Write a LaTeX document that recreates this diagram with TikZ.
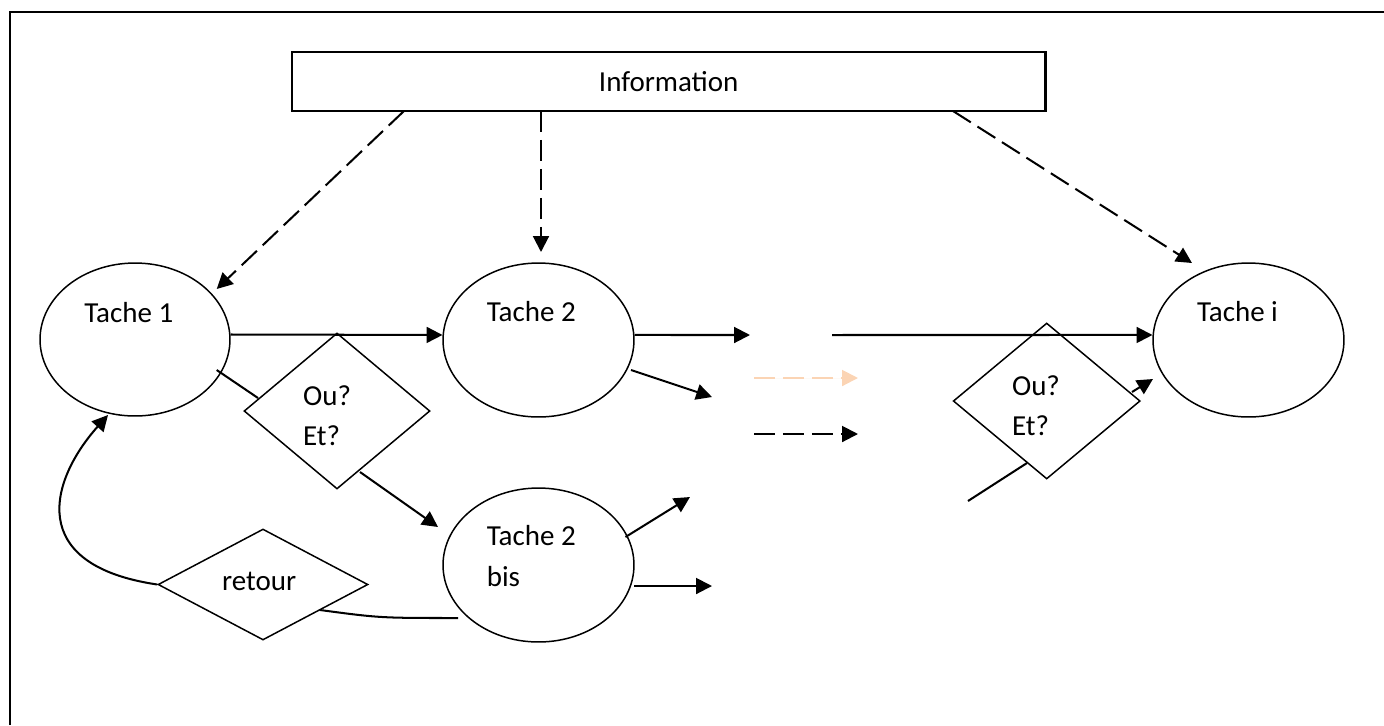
\documentclass[tikz,border=0pt]{standalone}
\usepackage{fontspec}
\setmainfont{Carlito}
\usetikzlibrary{shapes.geometric,arrows.meta}
\definecolor{peach}{RGB}{251,212,180}
\begin{document}
\begin{tikzpicture}[x=0.02cm,y=-0.02cm,
  lbl/.style={font=\fontsize{16.5}{23}\selectfont, inner sep=0, anchor=base west},
  task/.style={ellipse, draw, line width=0.85pt, inner sep=0,
               minimum width=3.82cm, minimum height=3.08cm},
  choice/.style={diamond, draw, line width=0.85pt, inner sep=0},
  flow/.style={line width=1.15pt, -{Triangle[length=9pt,width=9pt]}},
  link/.style={line width=1.15pt},
  dflow/.style={flow, dash pattern=on 12pt off 4.5pt},
]
\useasboundingbox (0,0) rectangle (1384,725);

% frame
\draw[line width=1.4pt] (10,725) -- (10,12) -- (1384,12);

% information box
\node[draw, line width=1.3pt, inner sep=0, minimum width=15.08cm, minimum height=1.18cm,
      font=\fontsize{16.5}{23}\selectfont] (info) at (668.7,81.2) {Information};

% tasks
\node[task, minimum width=3.8cm, minimum height=3.06cm] (t1) at (135,339.5) {};
\node[task] (t2)  at (538.5,340) {};
\node[task] (t2b) at (538.5,565) {};
\node[task] (ti)  at (1248.5,340) {};

% decisions
\node[choice, minimum width=3.72cm, minimum height=3.12cm] (d1) at (337,411) {};
\node[choice, minimum width=3.74cm, minimum height=3.12cm] (d2) at (1046.7,401) {};
\node[choice, minimum width=4.2cm, minimum height=2.22cm] (ret) at (263,584.5) {};

% labels
\node[lbl] (lt1)  at (84,322)     {Tache 1};
\node[lbl] (lt2)  at (486.5,321.7) {Tache 2};
\node[lbl] (lti)  at (1196.7,321.7) {Tache i};
\node[lbl] (lt2b) at (486.5,545)   {Tache 2};
\node[lbl] (lbis) at (486.5,586.7) {bis};
\node[lbl] (ou1)  at (302.8,405)   {Ou?};
\node[lbl] (et1)  at (302.8,445.7) {Et?};
\node[lbl] (ou2)  at (1011.7,395)  {Ou?};
\node[lbl] (et2)  at (1011.7,435)  {Et?};
\node[lbl] (lret) at (221.7,590)   {retour};

% connector ends
\coordinate (i1) at (404,111);
\coordinate (i2) at (541,111);
\coordinate (i3) at (953,111);
\coordinate (t1in) at (216.7,289);
\coordinate (t2in) at (541,252);
\coordinate (tiin) at (1192,263);
\coordinate (t2out) at (750,335);
\coordinate (midin) at (832,335);
\coordinate (t2low) at (631,370);
\coordinate (t2lowend) at (712,397);
\coordinate (t1low) at (216.7,370);
\coordinate (d1in) at (258,398);
\coordinate (d1out) at (360,472);
\coordinate (t2bin) at (438,527);
\coordinate (t2bup) at (625.5,537);
\coordinate (t2bupend) at (690,497);
\coordinate (t2bright) at (634,586);
\coordinate (t2brightend) at (712,586);
\coordinate (t2bleft) at (458,618);
\coordinate (retin) at (320,610);
\coordinate (t1back) at (108,415);
\coordinate (pa) at (754,378);
\coordinate (pb) at (858,378);
\coordinate (ba) at (754,434);
\coordinate (bb) at (858,434);
\coordinate (lowin) at (968,501);
\coordinate (d2in) at (1027,463);
\coordinate (d2out) at (1132,392);
\coordinate (tilow) at (1153,379);

% information links
\draw[dflow] (i1) -- (t1in);
\draw[dflow] (i2) -- (t2in);
\draw[dflow] (i3) -- (tiin);

% main flow
\draw[flow] (t1.3) -- (t2.177);
\draw[flow] (t2.3) -- (t2out);
\draw[flow] (midin) -- (ti.177);
\draw[flow] (t2low) -- (t2lowend);
\draw[link] (t1low) -- (d1in);
\draw[flow] (d1out) -- (t2bin);
\draw[flow] (t2bup) -- (t2bupend);
\draw[flow] (t2bright) -- (t2brightend);
\draw[dflow, draw=peach, fill=peach] (pa) -- (pb);
\draw[dflow] (ba) -- (bb);
\draw[link] (lowin) -- (d2in);
\draw[flow] (d2out) -- (tilow);

% return loop
\draw[link] (t2bleft) .. controls (380,618) .. (retin);
\draw[flow] (ret.west) .. controls (25,565) and (50,480) .. (t1back);
\end{tikzpicture}
\end{document}
